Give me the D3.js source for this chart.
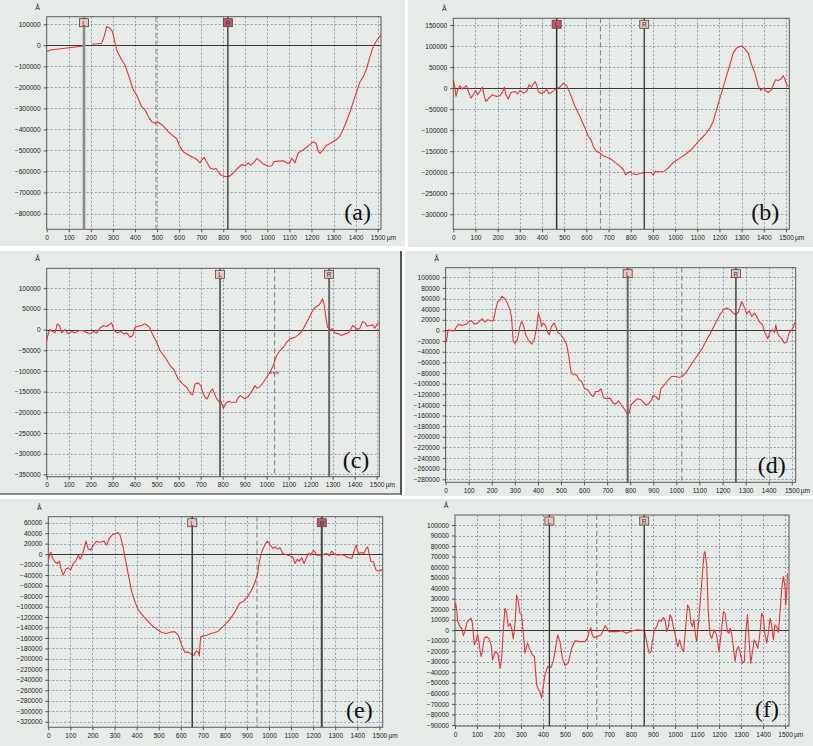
<!DOCTYPE html>
<html><head><meta charset="utf-8">
<script src="https://cdn.jsdelivr.net/npm/d3@7"></script>
<style>body{margin:0;background:#fff}</style>
</head><body>
<svg id="c" width="813" height="746"></svg>
<script>
// ---------- data ----------
const xTickValues = [0,100,200,300,400,500,600,700,800,900,1000,1100,1200,1300,1400,1500];
const yTicksA = [100000,0,-100000,-200000,-300000,-400000,-500000,-600000,-700000,-800000];
const yTicksB = [150000,100000,50000,0,-50000,-100000,-150000,-200000,-250000,-300000];
const yTicksC = [100000,50000,0,-50000,-100000,-150000,-200000,-250000,-300000,-350000];
const yTicksD = [100000,80000,60000,40000,20000,0,-20000,-40000,-60000,-80000,-100000,-120000,-140000,-160000,-180000,-200000,-220000,-240000,-260000,-280000];
const yTicksE = [60000,40000,20000,0,-20000,-40000,-60000,-80000,-100000,-120000,-140000,-160000,-180000,-200000,-220000,-240000,-260000,-280000,-300000,-320000];
const yTicksF = [100000,90000,80000,70000,60000,50000,40000,30000,20000,10000,0,-10000,-20000,-30000,-40000,-50000,-60000,-70000,-80000,-90000];

const profileA = [[0,-30000],[18,-22000],[166,-3000],[null,null],[204,5000],[249,10000],[260,41000],[272,89000],[287,81000],[298,65000],[310,10000],[317,-22000],[340,-70000],[355,-94000],[378,-165000],[393,-213000],[408,-237000],[430,-292000],[446,-308000],[461,-340000],[476,-363000],[491,-371000],[506,-366000],[529,-384000],[551,-411000],[574,-432000],[589,-443000],[604,-483000],[619,-506000],[642,-522000],[665,-533000],[680,-543000],[695,-559000],[702,-546000],[713,-533000],[725,-554000],[740,-583000],[755,-590000],[767,-586000],[778,-602000],[789,-617000],[801,-622000],[816,-625000],[831,-621000],[846,-606000],[864,-586000],[884,-567000],[899,-573000],[914,-559000],[924,-570000],[940,-557000],[952,-538000],[967,-551000],[982,-565000],[1005,-575000],[1020,-573000],[1030,-554000],[1050,-551000],[1073,-549000],[1088,-559000],[1100,-562000],[1110,-538000],[1118,-546000],[1125,-559000],[1140,-511000],[1156,-502000],[1175,-487000],[1193,-471000],[1208,-459000],[1221,-467000],[1231,-506000],[1239,-514000],[1251,-498000],[1269,-475000],[1292,-462000],[1314,-448000],[1329,-432000],[1352,-379000],[1375,-316000],[1397,-244000],[1420,-173000],[1435,-149000],[1450,-110000],[1465,-54000],[1480,-6000],[1495,22000],[1515,49000]];

const profileB = [[0,19800],[8,0],[12,-19800],[20,-4000],[30,5500],[41,-2400],[50,2400],[60,5500],[68,-8000],[80,-23800],[90,-15800],[101,-5500],[110,-15800],[120,-8000],[131,2400],[140,-19800],[147,-31700],[161,-23800],[176,-15800],[195,-19800],[210,-18200],[221,-10300],[230,2400],[237,-15800],[248,-26100],[260,-10300],[278,-8000],[290,-13500],[301,-5500],[316,-11900],[331,-8000],[341,7900],[353,2400],[368,15800],[376,7900],[383,-8000],[398,-13500],[413,-8000],[421,-2400],[431,-13500],[443,-10300],[461,-2400],[481,2400],[496,11900],[511,5500],[526,-11900],[549,-43600],[571,-67400],[594,-95100],[609,-115000],[621,-122800],[631,-138700],[646,-150600],[661,-154500],[676,-160900],[691,-164000],[711,-168800],[729,-176700],[752,-186200],[767,-194100],[777,-206000],[786,-202000],[797,-198100],[807,-203600],[827,-205200],[849,-202000],[872,-200500],[891,-200500],[902,-206000],[912,-198100],[932,-198900],[951,-198100],[969,-190200],[992,-176700],[1015,-168800],[1045,-158500],[1075,-145000],[1105,-126800],[1135,-110900],[1157,-95100],[1172,-79200],[1187,-51500],[1202,-23800],[1217,2400],[1232,29300],[1247,55500],[1262,83200],[1277,95100],[1293,99000],[1303,100600],[1315,92700],[1330,83200],[1345,55500],[1360,35700],[1375,4000],[1387,-5500],[1398,0],[1408,-5500],[1420,-10300],[1432,-5500],[1443,7900],[1453,19800],[1465,18200],[1477,21400],[1488,29300],[1496,19800],[1503,7900],[1513,4000]];

const profileC = [[0,-26600],[8,-8100],[15,0],[27,-4800],[38,-8100],[48,13700],[58,9700],[68,-8100],[83,0],[98,-10500],[114,-4800],[129,-8100],[148,-2400],[164,-2400],[179,-6500],[194,-10500],[212,-4800],[227,-8100],[242,3200],[258,9700],[273,7300],[288,13700],[295,16100],[306,-2400],[321,-8100],[336,-4800],[352,-10500],[364,-8100],[379,-18500],[391,-14500],[401,5600],[417,8100],[432,9700],[444,13700],[455,11300],[467,5600],[482,-12900],[500,-30600],[515,-50800],[538,-66900],[561,-87100],[576,-95200],[598,-119400],[618,-131500],[636,-139500],[655,-155600],[664,-158100],[674,-131500],[689,-129000],[700,-135500],[709,-151600],[720,-163700],[730,-167700],[742,-151600],[754,-143500],[761,-153200],[773,-167700],[785,-175800],[791,-171800],[803,-190300],[815,-177400],[826,-174200],[841,-175800],[861,-175800],[871,-163700],[882,-159700],[891,-163700],[901,-167700],[917,-161300],[927,-153200],[939,-143500],[947,-135500],[955,-141900],[967,-139500],[985,-127400],[1000,-115300],[1015,-103200],[1030,-87100],[1045,-62900],[1061,-50800],[1076,-42700],[1091,-30600],[1106,-22600],[1129,-18500],[1144,-12900],[1159,-4800],[1170,5600],[1182,17700],[1194,29800],[1205,41900],[1220,54000],[1235,58100],[1245,64500],[1254,74200],[1261,62100],[1270,25800],[1277,5600],[1288,0],[1298,1600],[1310,-8100],[1326,-10500],[1341,-14500],[1356,-10500],[1371,-8100],[1382,0],[1391,9700],[1401,5600],[1412,0],[1424,3200],[1436,19400],[1447,16100],[1457,8100],[1470,9700],[1482,11300],[1492,3200],[1500,11300],[1509,16100]];

const profileD = [[0,-17600],[4,-20700],[9,-3100],[14,1300],[26,-600],[38,-600],[48,7500],[58,11900],[69,9400],[81,10700],[91,11900],[101,16900],[113,18200],[124,11900],[139,13800],[149,18200],[159,21900],[171,15700],[182,20100],[197,18200],[207,18200],[217,38900],[225,53300],[236,57700],[246,64000],[257,59600],[269,49500],[279,38900],[286,23200],[293,-20700],[301,-23800],[311,-17600],[322,7500],[329,16900],[337,10700],[347,-8200],[358,-17600],[373,-25700],[384,-17600],[395,7500],[402,32600],[409,23200],[416,7500],[423,13800],[431,10700],[442,-3100],[449,-8200],[459,7500],[470,13800],[477,7500],[486,-3100],[500,-8200],[514,-17600],[525,-27000],[535,-52000],[543,-77100],[553,-83400],[568,-83400],[578,-92800],[590,-95900],[601,-108500],[616,-111600],[630,-121000],[640,-124100],[650,-114700],[662,-114700],[673,-109700],[684,-126000],[698,-128500],[712,-127300],[727,-136700],[737,-138600],[749,-132300],[763,-141100],[777,-149200],[789,-158600],[795,-155500],[803,-139800],[818,-133600],[832,-128500],[847,-130400],[857,-134800],[867,-139800],[879,-138600],[893,-130400],[900,-122300],[910,-124100],[919,-128500],[925,-130400],[933,-109700],[948,-102200],[965,-92800],[980,-86500],[997,-86500],[1012,-88400],[1026,-86500],[1040,-80300],[1059,-67700],[1078,-55200],[1095,-44500],[1113,-33200],[1131,-17600],[1146,-6900],[1160,5600],[1175,18200],[1189,29500],[1204,38900],[1218,42000],[1233,38900],[1247,32600],[1257,29500],[1269,34500],[1276,45100],[1283,54500],[1295,43300],[1305,30700],[1315,37000],[1327,26300],[1338,32600],[1348,26300],[1358,16900],[1373,10700],[1384,-5000],[1396,-15700],[1406,-3100],[1416,1300],[1425,-3100],[1431,10700],[1435,-600],[1445,-11300],[1457,-15700],[1468,-23800],[1478,-21900],[1488,-5000],[1500,1300],[1507,7500],[1514,15700]];

const profileE = [[0,-11500],[8,1300],[12,3200],[20,-8300],[30,-14600],[41,-17800],[50,-13400],[57,-27400],[68,-40100],[79,-28700],[91,-26100],[101,-30600],[113,-17800],[125,-13400],[136,-1900],[144,-9600],[154,-1900],[162,10800],[171,24800],[181,9600],[192,7600],[204,17200],[219,24800],[231,22300],[242,23600],[252,24800],[264,17200],[276,29900],[292,37600],[307,39500],[317,41400],[325,36300],[337,17200],[347,-5100],[363,-40100],[378,-72000],[393,-91100],[408,-107000],[427,-116600],[446,-126100],[468,-135700],[491,-143300],[514,-149700],[536,-151600],[559,-148400],[574,-148400],[589,-154800],[604,-173900],[619,-187900],[634,-186600],[650,-191700],[660,-193000],[669,-185400],[680,-186600],[684,-194300],[690,-158000],[702,-156100],[718,-154800],[736,-151600],[755,-149700],[770,-147100],[785,-140800],[805,-132500],[823,-124200],[846,-110200],[866,-94300],[884,-89800],[902,-81500],[921,-68800],[937,-52900],[947,-40100],[956,-14600],[967,4500],[982,18500],[992,24800],[1005,18500],[1017,10800],[1027,14000],[1038,9600],[1050,12100],[1062,1300],[1077,-600],[1092,-3200],[1107,-5100],[1118,-17800],[1128,-9600],[1137,-13400],[1148,-7000],[1159,-17800],[1168,-8300],[1178,1300],[1189,-1900],[1201,7600],[1208,4500],[1216,-1900],[1231,-1900],[1246,-600],[1261,1300],[1273,-3200],[1284,5700],[1296,-600],[1314,-1900],[1329,-600],[1344,-3200],[1360,-7000],[1375,-8300],[1385,4500],[1394,17200],[1405,1300],[1420,3200],[1430,1300],[1440,10800],[1447,14000],[1455,-1900],[1462,-14600],[1473,-14600],[1485,-30600],[1500,-32500],[1515,-28700]];

const profileF = [[0,20900],[3,25600],[8,19300],[12,8200],[23,3500],[30,1900],[38,-5100],[45,-1300],[53,6600],[64,9800],[73,11400],[79,6600],[88,-13900],[94,-10800],[103,-3800],[109,-12300],[118,-25000],[124,-20300],[133,-7600],[144,-6000],[155,-8200],[164,-13900],[171,-28200],[182,-20300],[194,-21800],[205,-36100],[212,-26600],[220,1900],[227,20900],[235,16100],[242,3500],[250,6600],[258,1300],[265,-8200],[273,6600],[280,33500],[288,27200],[295,16100],[303,14600],[311,-4400],[318,-21800],[330,-12300],[341,-18700],[352,-23400],[361,-25000],[371,-51900],[379,-56600],[386,-58200],[394,-64600],[402,-51900],[409,-42400],[421,-34500],[436,-35400],[447,-29100],[458,-15500],[467,-4400],[477,-10800],[488,-26600],[500,-33500],[515,-31300],[530,-17100],[545,-10100],[568,-10800],[591,-10800],[603,-7000],[609,-1300],[617,2500],[624,-4400],[633,-7000],[648,-6000],[664,-4400],[674,300],[682,4400],[689,2500],[700,-1300],[715,-1300],[735,-1300],[758,-600],[780,-2800],[803,-600],[826,300],[848,0],[861,-600],[871,-10800],[882,-21800],[891,-20300],[897,-10800],[906,300],[917,3500],[927,9800],[936,8200],[947,12000],[955,9800],[962,-1300],[970,3500],[977,14600],[985,12000],[992,3500],[1003,-6000],[1012,-15500],[1021,-9200],[1030,-17100],[1039,-20300],[1048,1900],[1057,24000],[1065,20900],[1073,6600],[1079,3500],[1086,9800],[1091,-1300],[1098,-10800],[1106,5100],[1117,33500],[1124,52500],[1132,73100],[1136,74700],[1144,62000],[1151,17700],[1159,-4400],[1167,-7600],[1179,300],[1189,-4400],[1200,-20300],[1209,-4400],[1220,17700],[1227,16100],[1238,-1300],[1245,-2800],[1251,1900],[1258,-4400],[1265,-15500],[1273,-29700],[1280,-18700],[1288,-15500],[1295,-20300],[1306,-31300],[1315,-29700],[1321,-4400],[1329,14600],[1336,-7600],[1344,-31300],[1351,-21800],[1360,-9200],[1368,-12300],[1376,-17100],[1385,-4400],[1394,16100],[1401,13000],[1409,-4400],[1417,-12300],[1424,-2800],[1432,11400],[1439,5100],[1447,-9200],[1454,5100],[1462,3500],[1470,-1900],[1477,16100],[1485,39800],[1492,50900],[1500,41400],[1503,24000],[1508,36700],[1511,54100]];

const cursorsA = [169, 821];
const cursorsB = [466, 861];
const cursorsC = [788, 1284];
const cursorsD = [789, 1258];
const cursorsE = [652, 1239];
const cursorsF = [429, 860];
const starMarkC = [1033, -105000];
const panelLabels = ['(a)','(b)','(c)','(d)','(e)','(f)'];
const cursorNames = ['L','R'];

// ---------- layout / style ----------
const LIGHT = '#f2c3c3', DARK = '#c9566c';
const panels = [
  {box:[0,0,405,246], plot:[46.7,16.7,381,229.3], xMax:1515, yDom:[-875000,136000], yTicks:yTicksA, data:profileA, cur:cursorsA,
   fills:[LIGHT,DARK], cs:[{c:'#8d8d8d',w:2.6},{c:'#333',w:1.3}]},
  {box:[408,0,405,247], plot:[453.3,18.3,789.3,229.3], xMax:1515, yDom:[-335700,166000], yTicks:yTicksB, data:profileB, cur:cursorsB,
   fills:[DARK,LIGHT], cs:[{c:'#333',w:1.5},{c:'#333',w:1.3}]},
  {box:[0,251,401,243], plot:[46.7,268.3,379.3,476.7], xMax:1512, yDom:[-355800,148000], yTicks:yTicksC, data:profileC, cur:cursorsC,
   fills:[LIGHT,LIGHT], cs:[{c:'#6a6a6a',w:2},{c:'#6a6a6a',w:2}], border:true},
  {box:[405,251,408,245], plot:[445.6,267.7,795.7,482.3], xMax:1517, yDom:[-285600,118000], yTicks:yTicksD, data:profileD, cur:cursorsD,
   fills:[LIGHT,LIGHT], cs:[{c:'#666',w:2},{c:'#444',w:1.5}]},
  {box:[0,499,406,247], plot:[48.3,516.7,382.7,727.3], xMax:1515, yDom:[-330700,71500], yTicks:yTicksE, data:profileE, cur:cursorsE,
   fills:[LIGHT,DARK], cs:[{c:'#333',w:1.4},{c:'#444',w:2}]},
  {box:[406,499,407,247], plot:[455,515,789,726], xMax:1518, yDom:[-91000,109500], yTicks:yTicksF, data:profileF, cur:cursorsF,
   fills:[LIGHT,LIGHT], cs:[{c:'#333',w:1.3},{c:'#333',w:1.3}]}
];

const svg = d3.select('#c');
const FONT = "'Liberation Sans', Arial, sans-serif";
const SERIF = "'Liberation Serif', 'Times New Roman', serif";

panels.forEach((p, i) => {
  const [bx,by,bw,bh] = p.box;
  const [L,T,R,B] = p.plot;
  const g = svg.append('g');
  g.append('rect').attr('x',bx).attr('y',by).attr('width',bw).attr('height',bh).attr('fill','#e6ebe7');
  if (p.border) {
    g.append('line').attr('x1',bx+bw).attr('x2',bx+bw).attr('y1',by).attr('y2',by+bh+1).attr('stroke','#555').attr('stroke-width',2);
    g.append('line').attr('x1',bx).attr('x2',bx+bw+1).attr('y1',by+bh).attr('y2',by+bh).attr('stroke','#666').attr('stroke-width',1.5);
  }
  const x = d3.scaleLinear().domain([0,p.xMax]).range([L,R]);
  const y = d3.scaleLinear().domain(p.yDom).range([B,T]);

  // grid
  const grid = g.append('g').attr('stroke','#8e9bb2').attr('stroke-width',1).attr('stroke-dasharray','2,2').attr('fill','none');
  xTickValues.forEach(v => { if (v>0) grid.append('line').attr('x1',Math.round(x(v))+0.5).attr('x2',Math.round(x(v))+0.5).attr('y1',T).attr('y2',B); });
  p.yTicks.forEach(v => { if (v!==0) grid.append('line').attr('x1',L).attr('x2',R).attr('y1',Math.round(y(v))+0.5).attr('y2',Math.round(y(v))+0.5); });

  // frame
  g.append('rect').attr('x',L).attr('y',T).attr('width',R-L).attr('height',B-T).attr('fill','none').attr('stroke','#5a5a5a').attr('stroke-width',1);

  // axes with d3
  const yAxis = d3.axisLeft(y).tickValues(p.yTicks).tickSize(3).tickPadding(3).tickFormat(d3.format('d'));
  const ya = g.append('g').attr('transform',`translate(${L},0)`).call(yAxis);
  ya.select('.domain').remove();
  ya.selectAll('line').attr('stroke','#555');
  ya.selectAll('text').attr('font-family',FONT).attr('font-size',6.6).attr('fill','#222');
  const xAxis = d3.axisBottom(x).tickValues(xTickValues).tickSize(3).tickPadding(3).tickFormat(d3.format('d'));
  const xa = g.append('g').attr('transform',`translate(0,${B})`).call(xAxis);
  xa.select('.domain').remove();
  xa.selectAll('line').attr('stroke','#555');
  xa.selectAll('text').attr('font-family',FONT).attr('font-size',6.6).attr('fill','#222');
  g.append('text').attr('x',x(1500)+9).attr('y',B+6).attr('dy','0.71em').attr('font-family',FONT).attr('font-size',6.6).attr('fill','#222').text('µm');
  g.append('text').attr('x',L-9).attr('y',T-7).attr('text-anchor','middle').attr('font-family',FONT).attr('font-size',7).attr('fill','#222').text('Å');

  // zero line
  g.append('line').attr('x1',L).attr('x2',R).attr('y1',Math.round(y(0))+0.5).attr('y2',Math.round(y(0))+0.5).attr('stroke','#3a3a3a').attr('stroke-width',1);

  // midline (dashed)
  const mid = (p.cur[0]+p.cur[1])/2;
  g.append('line').attr('x1',x(mid)).attr('x2',x(mid)).attr('y1',T).attr('y2',B).attr('stroke','#7d7d7d').attr('stroke-width',1).attr('stroke-dasharray','5,3');

  // curve
  const line = d3.line().defined(d => d[0]!==null).x(d => x(d[0])).y(d => y(d[1])).curve(d3.curveLinear);
  g.append('path').datum(p.data).attr('d',line).attr('fill','none').attr('stroke','#e8333b').attr('stroke-width',1.1).attr('stroke-linejoin','round');

  // cursors
  p.cur.forEach((cv, k) => {
    const cx = x(cv);
    g.append('line').attr('x1',cx).attr('x2',cx).attr('y1',T).attr('y2',B).attr('stroke',p.cs[k].c).attr('stroke-width',p.cs[k].w);
    g.append('rect').attr('x',cx-4.5).attr('y',T+2).attr('width',9).attr('height',8).attr('fill',p.fills[k]).attr('stroke','#4a4a4a').attr('stroke-width',0.8);
    g.append('text').attr('x',cx).attr('y',T+8.8).attr('text-anchor','middle').attr('font-family',FONT).attr('font-size',6.5).attr('fill','#333').text(cursorNames[k]);
  });

  if (i === 2) {
    g.append('text').attr('x',x(starMarkC[0])).attr('y',y(starMarkC[1])+4).attr('text-anchor','middle').attr('font-family',FONT).attr('font-size',9).attr('fill','#b8404e').text('***');
  }

  // panel label
  g.append('text').attr('x',R-10).attr('y',B-9).attr('text-anchor','end').attr('font-family',SERIF).attr('font-size',24).attr('fill','#111').text(panelLabels[i]);
});
</script>
</body></html>
